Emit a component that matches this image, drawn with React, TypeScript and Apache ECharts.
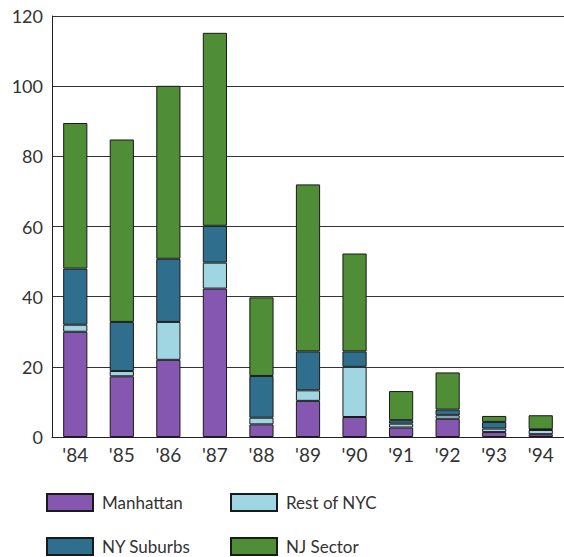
import React, { useEffect, useRef } from "react";
import * as echarts from "echarts";

const years = ["'84", "'85", "'86", "'87", "'88", "'89", "'90", "'91", "'92", "'93", "'94"];
const manhattan = [30.0, 17.3, 22.0, 42.3, 3.6, 10.3, 5.7, 2.7, 5.2, 1.4, 0.8];
const restOfNYC = [2.0, 1.5, 10.8, 7.4, 1.9, 3.0, 14.3, 1.1, 1.0, 1.0, 1.2];
const nySuburbs = [16.0, 14.0, 18.0, 10.5, 11.9, 11.1, 4.4, 1.0, 1.6, 1.9, 0.2];
const njSector = [41.5, 52.0, 49.3, 55.0, 22.4, 47.6, 27.9, 8.3, 10.6, 1.7, 4.0];
const yTicks = { min: 0, max: 120, interval: 20 };

const seriesNames = ["Manhattan", "Rest of NYC", "NY Suburbs", "NJ Sector"];
const seriesData = [manhattan, restOfNYC, nySuburbs, njSector];
const colors = ["#8557b0", "#9fd6e1", "#2f6f8d", "#4f8d36"];

const FONT = "Lato";

export default function App() {
  const ref = useRef<HTMLDivElement>(null);
  useEffect(() => {
    if (!ref.current) return;
    const chart = echarts.init(ref.current, null, { renderer: "svg" });
    const legendText = {
      fontFamily: FONT,
      fontSize: 17,
      color: "#333",
      lineHeight: 17,
      padding: [0, 0, 0, 4],
    };
    const legendAt = (name: string, left: number, top: number) => ({
      data: [name],
      orient: "horizontal",
      left,
      top,
      itemWidth: 46,
      itemHeight: 17,
      icon: "rect",
      textStyle: legendText,
      padding: 0,
    });
    chart.setOption({
      animation: false,
      backgroundColor: "#ffffff",
      grid: { left: 52, right: 0, top: 16, bottom: 120, containLabel: false },
      xAxis: {
        type: "category",
        data: years,
        axisLine: { show: true, lineStyle: { color: "#222", width: 1 } },
        axisTick: { show: false },
        axisLabel: { fontFamily: FONT, fontSize: 19, color: "#333", margin: 8 },
      },
      yAxis: {
        type: "value",
        min: yTicks.min,
        max: yTicks.max,
        interval: yTicks.interval,
        axisLine: { show: true, lineStyle: { color: "#222", width: 1 } },
        axisTick: { show: false },
        axisLabel: { fontFamily: FONT, fontSize: 18, color: "#333", margin: 9 },
        splitLine: { show: true, lineStyle: { color: "#333", width: 1 } },
      },
      legend: [
        legendAt("Manhattan", 46, 493),
        legendAt("Rest of NYC", 230, 493),
        legendAt("NY Suburbs", 46, 537),
        legendAt("NJ Sector", 230, 537),
      ],
      series: seriesNames.map((name, i) => ({
        name,
        type: "bar",
        stack: "total",
        barWidth: "52%",
        data: seriesData[i],
        itemStyle: { color: colors[i], borderColor: "#1a1a1a", borderWidth: 1 },
      })),
    });
    return () => chart.dispose();
  }, []);
  return <div ref={ref} style={{ width: 564, height: 557, position: "absolute", left: 0, top: 0 }} />;
}
